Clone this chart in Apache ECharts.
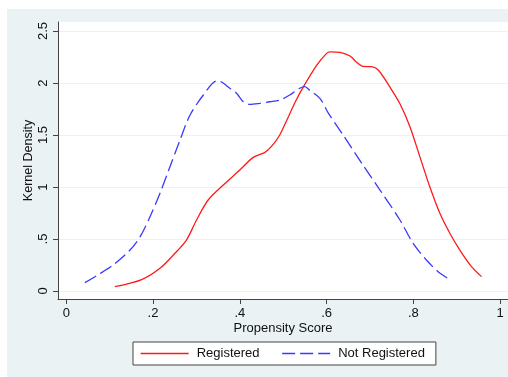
<!DOCTYPE html>
<html>
<head>
<meta charset="utf-8">
<script src="https://cdn.jsdelivr.net/npm/echarts@6/dist/echarts.min.js"></script>
<style>
  html, body { margin: 0; padding: 0; background: #ffffff; }
  #chart { position: absolute; left: 7px; top: 9px; width: 501px; height: 368px; background: #EAF2F3; }
</style>
</head>
<body>
<div id="chart"></div>
<script>
// Kernel density of the propensity score, by registration status
const registeredX = [0.112, 0.174, 0.216, 0.250, 0.277, 0.300, 0.327, 0.362, 0.400, 0.431, 0.458, 0.475, 0.492, 0.508, 0.528, 0.546, 0.577, 0.600, 0.608, 0.631, 0.654, 0.669, 0.684, 0.704, 0.719, 0.746, 0.769, 0.792, 0.815, 0.838, 0.861, 0.884, 0.907, 0.934, 0.957];
const registeredY = [0.041, 0.110, 0.218, 0.36, 0.49, 0.68, 0.875, 1.02, 1.163, 1.285, 1.333, 1.40, 1.50, 1.64, 1.82, 1.96, 2.17, 2.285, 2.30, 2.295, 2.26, 2.20, 2.16, 2.157, 2.125, 1.96, 1.80, 1.58, 1.29, 1.00, 0.747, 0.555, 0.394, 0.234, 0.138];

const notRegisteredX = [0.043, 0.075, 0.108, 0.147, 0.170, 0.193, 0.216, 0.239, 0.262, 0.285, 0.316, 0.347, 0.358, 0.377, 0.393, 0.408, 0.423, 0.446, 0.469, 0.492, 0.515, 0.538, 0.550, 0.561, 0.585, 0.604, 0.638, 0.684, 0.723, 0.769, 0.799, 0.830, 0.857, 0.883];
const notRegisteredY = [0.080, 0.160, 0.250, 0.394, 0.520, 0.714, 0.940, 1.195, 1.450, 1.690, 1.885, 2.020, 2.010, 1.950, 1.900, 1.820, 1.795, 1.805, 1.820, 1.836, 1.885, 1.950, 1.965, 1.930, 1.850, 1.710, 1.500, 1.210, 0.971, 0.683, 0.460, 0.298, 0.186, 0.112];

const xTicks = [0, 0.2, 0.4, 0.6, 0.8, 1];
const yTicks = [0, 0.5, 1, 1.5, 2, 2.5];

const seriesNames = ['Registered', 'Not Registered'];

function pair(xs, ys) { return xs.map((x, i) => [x, ys[i]]); }
function stataNum(v) {
  if (Math.abs(v - Math.round(v)) < 1e-9) return String(Math.round(v));
  return String(+v.toFixed(2)).replace(/^0\./, '.');
}

const FONT = 'Liberation Sans, Arial, Helvetica, sans-serif';
const RED = '#FF1A1A';
const BLUE = '#3A3AFF';
const chart = echarts.init(document.getElementById('chart'), null, { renderer: 'canvas' });

chart.setOption({
  animation: false,
  textStyle: { fontFamily: FONT },
  grid: {
    left: 51, top: 13, right: 0, bottom: 78,
    show: true, backgroundColor: '#ffffff', borderWidth: 0
  },
  xAxis: {
    type: 'value',
    min: -0.019, max: 1.018,
    name: 'Propensity Score',
    nameLocation: 'middle',
    nameGap: 23,
    nameMoveOverlap: false,
    nameTextStyle: { fontSize: 13, color: '#111', fontFamily: FONT },
    axisLine: { show: true, onZero: false, lineStyle: { color: '#444', width: 1 } },
    axisTick: { show: true, length: 5, customValues: xTicks, lineStyle: { color: '#444' } },
    axisLabel: { customValues: xTicks, formatter: stataNum, fontSize: 13, color: '#111', margin: 8, fontFamily: FONT },
    splitLine: { show: false }
  },
  yAxis: {
    type: 'value',
    min: -0.077, max: 2.587,
    name: 'Kernel Density',
    nameLocation: 'middle',
    nameGap: 23,
    nameMoveOverlap: false,
    nameTextStyle: { fontSize: 12.5, color: '#111', fontFamily: FONT },
    axisLine: { show: true, onZero: false, lineStyle: { color: '#444', width: 1 } },
    axisTick: { show: true, length: 5, customValues: yTicks, lineStyle: { color: '#444' } },
    axisLabel: { customValues: yTicks, formatter: stataNum, rotate: 90, fontSize: 13, color: '#111', margin: 8, fontFamily: FONT },
    splitLine: { show: true, lineStyle: { color: '#EAF2F3', width: 1 } }
  },
  legend: {
    left: 126, top: 333,
    orient: 'horizontal',
    backgroundColor: '#ffffff',
    borderColor: '#444',
    borderWidth: 1,
    borderRadius: 0,
    padding: [5, 11, 5, 7],
    itemWidth: 48,
    itemHeight: 14,
    itemGap: 22,
    data: seriesNames,
    lineStyle: { width: 1.3 },
    textStyle: { fontSize: 13, color: '#111', fontFamily: FONT, padding: [0, 0, 0, 3] }
  },
  series: [
    {
      name: seriesNames[0],
      type: 'line',
      data: pair(registeredX, registeredY),
      smooth: 0.3,
      showSymbol: false,
      symbol: 'circle',
      lineStyle: { color: RED, width: 1.3 },
      itemStyle: { color: 'rgba(0,0,0,0)', borderWidth: 0 }
    },
    {
      name: seriesNames[1],
      type: 'line',
      data: pair(notRegisteredX, notRegisteredY),
      smooth: 0.3,
      showSymbol: false,
      symbol: 'circle',
      lineStyle: { color: BLUE, width: 1.3, type: [13, 5] },
      itemStyle: { color: 'rgba(0,0,0,0)', borderWidth: 0 }
    }
  ]
});
</script>
</body>
</html>
